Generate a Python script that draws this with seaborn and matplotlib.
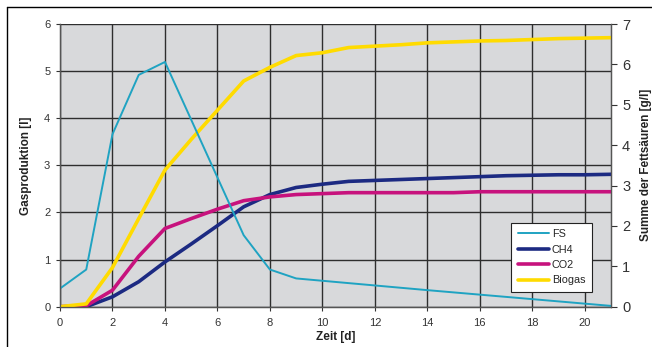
import numpy as np
import pandas as pd
import matplotlib
matplotlib.use("Agg")
import matplotlib.pyplot as plt
import seaborn as sns
from matplotlib.lines import Line2D

# ---- data ----
days = list(range(22))
ch4 = [0.0, 0.0, 0.21, 0.53, 0.95, 1.33, 1.72, 2.12, 2.38, 2.53, 2.60, 2.66,
       2.68, 2.70, 2.72, 2.74, 2.76, 2.78, 2.79, 2.80, 2.80, 2.81]
co2 = [0.0, 0.02, 0.35, 1.07, 1.66, 1.87, 2.07, 2.25, 2.33, 2.38, 2.40, 2.42,
       2.42, 2.42, 2.42, 2.42, 2.44, 2.44, 2.44, 2.44, 2.44, 2.44]
biogas = [0.0, 0.06, 0.83, 1.87, 2.90, 3.55, 4.17, 4.79, 5.08, 5.33, 5.39, 5.50,
          5.53, 5.56, 5.60, 5.62, 5.64, 5.65, 5.67, 5.69, 5.70, 5.71]
fs_days = [0, 1, 2, 3, 4, 7, 8, 9, 14, 21]
fs = [0.45, 0.92, 4.27, 5.74, 6.06, 1.77, 0.92, 0.70, 0.41, 0.02]  # g/l

x_ticks = list(range(0, 21, 2))
left_ticks = list(range(0, 7))
right_ticks = list(range(0, 8))

colors = {"FS": "#1fa3c2", "CH4": "#1c2a82", "CO2": "#c7127d", "Biogas": "#ffdb00"}

sns.set_theme(style="white")
plt.rcParams['font.family'] = ['Liberation Sans', 'DejaVu Sans']

fig = plt.figure(figsize=(6.52, 3.47), dpi=100)
ax = fig.add_axes([60/652, 1-306.7/347, (611-60)/652, (306.7-24)/347])
ax2 = ax.twinx()

gas = pd.DataFrame({"Zeit": days * 3,
                    "Wert": ch4 + co2 + biogas,
                    "Serie": ["CH4"] * 22 + ["CO2"] * 22 + ["Biogas"] * 22})
fsdf = pd.DataFrame({"Zeit": fs_days, "Wert": fs})

ax.set_facecolor("#d8d9db")
sns.lineplot(data=gas, x="Zeit", y="Wert", hue="Serie",
             palette=colors, hue_order=["CH4", "CO2", "Biogas"],
             linewidth=2.6, ax=ax, legend=False, zorder=3)
sns.lineplot(data=fsdf, x="Zeit", y="Wert", color=colors["FS"],
             linewidth=1.4, ax=ax2, legend=False)

ax.set_xlim(0, 21)
ax.set_ylim(0, 6)
ax2.set_ylim(0, 7)
ax.set_xticks(x_ticks)
ax.set_yticks(left_ticks)
ax2.set_yticks(right_ticks)
ax.grid(True, color="#2e2e2e", linewidth=1.0)
ax.set_axisbelow(True)
ax2.grid(False)

tc = "#333333"
ax.tick_params(axis="x", labelsize=8, colors=tc, length=3, width=0.8,
               direction="out", bottom=True, pad=5)
ax.tick_params(axis="y", labelsize=8, colors=tc, length=3, width=0.8,
               direction="out", left=True, pad=4)
ax2.tick_params(axis="y", labelsize=10.5, colors=tc, length=4, width=0.8,
                direction="out", right=True, pad=4)
for a in (ax, ax2):
    for s in a.spines.values():
        s.set_color("#555555")
        s.set_linewidth(0.9)
ax.spines["top"].set_visible(False)
ax2.spines["top"].set_visible(False)

ax.set_xlabel("Zeit [d]", fontsize=8.5, fontweight="bold", color="#222222", labelpad=2)
ax.set_ylabel("Gasproduktion [l]", fontsize=8.5, fontweight="bold", color="#222222", labelpad=9)
ax2.set_ylabel("Summe der Fettsäuren [g/l]", fontsize=8.5, fontweight="bold", color="#222222", labelpad=7)

handles = [Line2D([0], [0], color=colors["FS"], lw=1.4),
           Line2D([0], [0], color=colors["CH4"], lw=2.6),
           Line2D([0], [0], color=colors["CO2"], lw=2.6),
           Line2D([0], [0], color=colors["Biogas"], lw=2.6)]
leg = ax2.legend(handles, ["FS", "CH4", "CO2", "Biogas"],
                 loc="lower right", bbox_to_anchor=(0.9655, 0.052),
                 borderaxespad=0,
                 fontsize=7.8, frameon=True, fancybox=False, handlelength=2.9,
                 labelspacing=0.5, borderpad=0.6, handletextpad=0.25)
leg.get_frame().set_edgecolor("#222222")
leg.get_frame().set_linewidth(0.8)
leg.get_frame().set_facecolor("white")
leg.get_frame().set_alpha(1)

# outer frame (left and top)
fig.add_artist(Line2D([7/652, 7/652], [0, 1-7/347], color="black", lw=1.0))
fig.add_artist(Line2D([7/652, 1], [1-7/347, 1-7/347], color="black", lw=1.0))

fig.savefig("out.png", dpi=100)
